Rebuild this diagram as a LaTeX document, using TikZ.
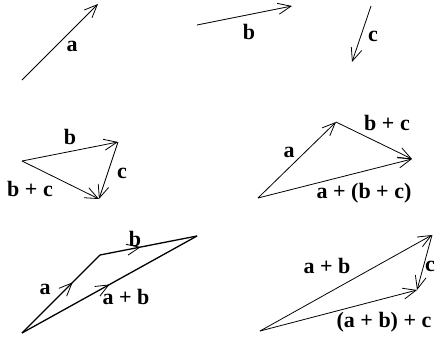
\documentclass[tikz,border=0pt]{standalone}
\usepackage{fontspec}
\setmainfont{Liberation Serif}
\usetikzlibrary{arrows.meta, decorations.markings}

\begin{document}
\begin{tikzpicture}[
    x=1pt, y=-1pt,
    vec/.style={-{Straight Barb[length=13pt, width=11pt]}, line width=0.8pt},
    midarrow/.style={line width=1.3pt, postaction={decorate},
        decoration={markings, mark=at position #1 with {\arrow{Straight Barb[length=13pt, width=11pt, line width=0.8pt]}}}},
    lbl/.style={inner sep=0pt, font=\fontsize{22}{26}\selectfont\bfseries}
]
\useasboundingbox (0,0) rectangle (435,337);

% single vectors
\coordinate (a0) at (22,80);   \coordinate (a1) at (98,4);
\coordinate (b0) at (197,25);  \coordinate (b1) at (292,6);
\coordinate (c0) at (371,6);   \coordinate (c1) at (352,62);
\draw[vec] (a0) -- (a1);
\draw[vec] (b0) -- (b1);
\draw[vec] (c0) -- (c1);
\node[lbl] (la) at (72,46) {a};
\node[lbl] (lb) at (249,32) {b};
\node[lbl] (lc) at (373,36) {c};

% b + c
\coordinate (p0) at (22,161);  \coordinate (p1) at (118,142);  \coordinate (p2) at (99,199);
\draw[vec] (p0) -- (p1);
\draw[vec] (p1) -- (p2);
\draw[vec] (p0) -- (p2);
\node[lbl] (pb) at (70,137) {b};
\node[lbl] (pc) at (122,173) {c};
\node[lbl] (pbc) at (30,189) {b + c};

% a + (b + c)
\coordinate (q0) at (258,198); \coordinate (q1) at (336,122);  \coordinate (q2) at (412,159);
\draw[vec] (q0) -- (q1);
\draw[vec] (q1) -- (q2);
\draw[vec] (q0) -- (q2);
\node[lbl] (qa) at (289,152) {a};
\node[lbl] (qbc) at (387,123) {b + c};
\node[lbl] (qabc) at (364,193) {a + (b + c)};

% a + b
\coordinate (r0) at (22,333);  \coordinate (r1) at (100,255);  \coordinate (r2) at (197,236);
\draw[midarrow=0.65] (r0) -- (r1);
\draw[midarrow=0.42] (r1) -- (r2);
\draw[midarrow=0.5] (r0) -- (r2);
\node[lbl] (ra) at (45,289) {a};
\node[lbl] (rb) at (135,239) {b};
\node[lbl] (rab) at (126,297) {a + b};

% (a + b) + c
\coordinate (s0) at (260,331); \coordinate (s1) at (432,235);  \coordinate (s2) at (417,290);
\draw[vec] (s0) -- (s1);
\draw[vec] (s1) -- (s2);
\draw[vec] (s0) -- (s2);
\node[lbl] (sab) at (327,266) {a + b};
\node[lbl] (sc) at (430,266) {c};
\node[lbl] (sabc) at (384,322) {(a + b) + c};
\end{tikzpicture}
\end{document}
